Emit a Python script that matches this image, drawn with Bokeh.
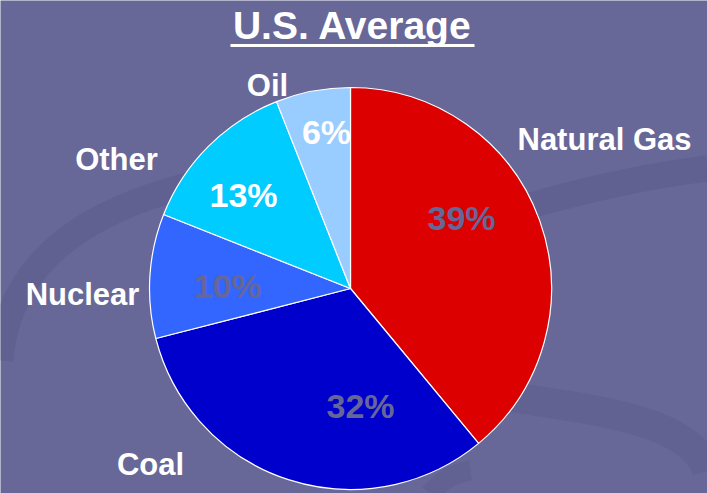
import numpy as np
from bokeh.plotting import figure
from bokeh.models import Range1d, ColumnDataSource
from bokeh.core.properties import value
from bokeh.embed import file_html
from bokeh.resources import INLINE

# ---- data ----
labels = ["Natural Gas", "Coal", "Nuclear", "Other", "Oil"]
shares = [39, 32, 10, 13, 6]
colors = ["#DD0000", "#0000CC", "#3366FF", "#00CCFF", "#99CCFF"]
pct_colors = ["#666699", "#666699", "#666699", "#FFFFFF", "#FFFFFF"]
title_text = "U.S. Average"

# ---- layout (screen px of the 707x493 reference) ----
H = 493
cx, cy, R = 350, 288, 201
label_pos = [(604, 138.5), (150, 464), (82, 294), (116, 158.5), (267, 85)]
pct_pos = [(461, 217.5), (360, 405), (227, 285.5), (243, 194), (326, 131.5)]

BG = "#676798"

p = figure(width=707, height=493, x_range=Range1d(0, 707), y_range=Range1d(0, 493),
           output_backend="svg", toolbar_location=None, min_border=0)
p.background_fill_color = BG
p.border_fill_color = BG
p.outline_line_color = None
p.axis.visible = False
p.grid.visible = False

# faint background swirls
swirl = "#5A5A86"
p.bezier(x0=[0], y0=[H - 360], x1=[330], y1=[H - 160],
         cx0=[10], cy0=[H - 230], cx1=[140], cy1=[H - 180],
         line_color=swirl, line_width=26, line_alpha=0.4)
p.bezier(x0=[530], y0=[H - 205], x1=[707], y1=[H - 168],
         cx0=[590], cy0=[H - 188], cx1=[650], cy1=[H - 175],
         line_color=swirl, line_width=26, line_alpha=0.4)
p.bezier(x0=[500], y0=[H - 395], x1=[707], y1=[H - 470],
         cx0=[600], cy0=[H - 410], cx1=[690], cy1=[H - 420],
         line_color=swirl, line_width=30, line_alpha=0.35)
p.bezier(x0=[430], y0=[H - 493], x1=[470], y1=[H - 470],
         cx0=[440], cy0=[H - 480], cx1=[455], cy1=[H - 472],
         line_color=swirl, line_width=20, line_alpha=0.35)

# pie wedges (clockwise from 12 o'clock)
frac = np.array(shares, dtype=float) / sum(shares)
cum = np.concatenate([[0], np.cumsum(frac)])
start = np.pi / 2 - 2 * np.pi * cum[1:]
end = np.pi / 2 - 2 * np.pi * cum[:-1]
src = ColumnDataSource(dict(start=start, end=end, color=colors, label=labels))
p.wedge(x=cx, y=H - cy, radius=R, start_angle="start", end_angle="end",
        direction="anticlock", fill_color="color", line_color="white",
        line_width=1.2, source=src)

# category labels
p.text(x=[q[0] for q in label_pos], y=[H - q[1] for q in label_pos], text=labels,
       text_font=value("Liberation Sans"), text_font_style="bold",
       text_font_size="31px", text_color="white", text_align="center",
       text_baseline="middle")

# percentages
p.text(x=[q[0] for q in pct_pos], y=[H - q[1] for q in pct_pos],
       text=[f"{s}%" for s in shares], text_color=pct_colors,
       text_font=value("Liberation Sans"), text_font_style="bold",
       text_font_size="34px", text_align="center", text_baseline="middle")

# title with underline
p.text(x=[352], y=[H - 24.5], text=[title_text], text_font=value("Liberation Sans"),
       text_font_style="bold", text_font_size="39px", text_color="white",
       text_align="center", text_baseline="middle")
p.segment(x0=[230], y0=[H - 45], x1=[474], y1=[H - 45], line_color="white", line_width=3)

open("out.html", "w").write(file_html(p, INLINE))
